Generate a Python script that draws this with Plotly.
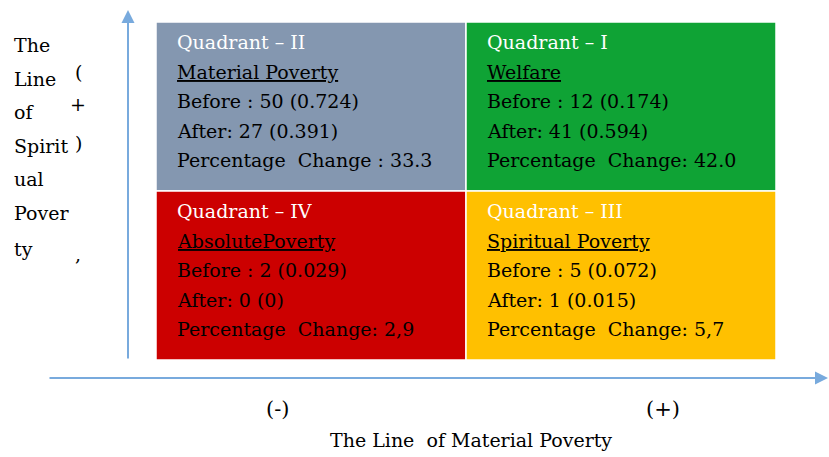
import plotly.graph_objects as go

# ---- data ----
quadrants = ["Quadrant – II", "Quadrant – I", "Quadrant – IV", "Quadrant – III"]
categories = ["Material Poverty", "Welfare", "AbsolutePoverty", "Spiritual Poverty"]
before_n = [50, 12, 2, 5]
before_p = ["0.724", "0.174", "0.029", "0.072"]
after_n = [27, 41, 0, 1]
after_p = ["0.391", "0.594", "0", "0.015"]
pct_change = ["33.3", "42.0", "2,9", "5,7"]
pct_sep = [" : ", ": ", ": ", ": "]
col_left = [-1, 0, -1, 0]      # quadrant left edge (material axis units)
row_bottom = [0, 0, -1, -1]    # quadrant bottom edge (spiritual axis units)
colors = ["#8497B0", "#0FA335", "#CC0000", "#FFC000"]

y_axis_words = ["The", "Line", "of", "Spirit", "ual", "Pover", "ty"]
y_axis_marks = ["(", "+", ")", ","]
x_tick_labels = ["(-)", "(+)"]
x_title = "The Line  of Material Poverty"

# ---- pixel <-> axis helpers (layout only) ----
W, H = 829, 457
CX, UX = 466.0, 310.0
CY, UY = 191.0, 169.0


def px2x(px):
    return (px - CX) / UX


def px2y(py):
    return (CY - py) / UY


FONT = "DejaVu Serif"
FS = 19
ARROW = "#78AADD"

fig = go.Figure()
shapes = []
ann = []

for i in range(4):
    x0, y0 = col_left[i], row_bottom[i]
    shapes.append(dict(type="rect", xref="x", yref="y",
                       x0=x0, x1=x0 + 1, y0=y0, y1=y0 + 1,
                       fillcolor=colors[i], line=dict(color="white", width=1.5),
                       layer="below"))
    lines = [
        (quadrants[i], "white"),
        ("<u>" + categories[i] + "</u>", "black"),
        (f"Before : {before_n[i]} ({before_p[i]})", "black"),
        (f"After: {after_n[i]} ({after_p[i]})", "black"),
        (f"Percentage  Change{pct_sep[i]}{pct_change[i]}", "black"),
    ]
    for k, (t, c) in enumerate(lines):
        ann.append(dict(xref="x", yref="y",
                        x=x0 + 19 / UX, y=y0 + 1 - (20 + 29.5 * k) / UY,
                        text=t, showarrow=False, xanchor="left", yanchor="middle",
                        align="left", font=dict(family=FONT, size=FS, color=c)))

# vertical axis arrow
ann.append(dict(xref="x", yref="y", axref="x", ayref="y",
                x=px2x(128), y=px2y(10), ax=px2x(128), ay=px2y(360),
                showarrow=True, arrowhead=2, arrowsize=1.3, arrowwidth=2,
                arrowcolor=ARROW, text=""))
# horizontal axis arrow
ann.append(dict(xref="x", yref="y", axref="x", ayref="y",
                x=px2x(828), y=px2y(378), ax=px2x(48), ay=px2y(378),
                showarrow=True, arrowhead=2, arrowsize=1.3, arrowwidth=2,
                arrowcolor=ARROW, text=""))

# vertical axis title words
for k, w in enumerate(y_axis_words):
    yy = 45 + 33.5 * k + (3 if k == 6 else 0)
    ann.append(dict(xref="x", yref="y", x=px2x(12), y=px2y(yy), text=w,
                    showarrow=False, xanchor="left", yanchor="middle",
                    font=dict(family=FONT, size=FS, color="black")))
for m, yy in zip(y_axis_marks, [72, 104, 143, 254]):
    ann.append(dict(xref="x", yref="y", x=px2x(78), y=px2y(yy), text=m,
                    showarrow=False, xanchor="center", yanchor="middle",
                    font=dict(family=FONT, size=FS, color="black")))

# x tick labels and title
for t, xp in zip(x_tick_labels, [277, 663]):
    ann.append(dict(xref="x", yref="y", x=px2x(xp), y=px2y(409), text=t,
                    showarrow=False, xanchor="center", yanchor="middle",
                    font=dict(family=FONT, size=21, color="black")))
ann.append(dict(xref="x", yref="y", x=px2x(471), y=px2y(440), text=x_title,
                showarrow=False, xanchor="center", yanchor="middle",
                font=dict(family=FONT, size=FS, color="black")))

fig.update_layout(
    width=W, height=H, margin=dict(l=0, r=0, t=0, b=0),
    paper_bgcolor="white", plot_bgcolor="white",
    xaxis=dict(range=[px2x(0), px2x(W)], visible=False, fixedrange=True),
    yaxis=dict(range=[px2y(H), px2y(0)], visible=False, fixedrange=True),
    shapes=shapes, annotations=ann, showlegend=False,
)

fig.write_html("out.html", config={"displayModeBar": False},
               post_script="document.body.style.margin='0px';document.body.style.overflow='hidden';")
